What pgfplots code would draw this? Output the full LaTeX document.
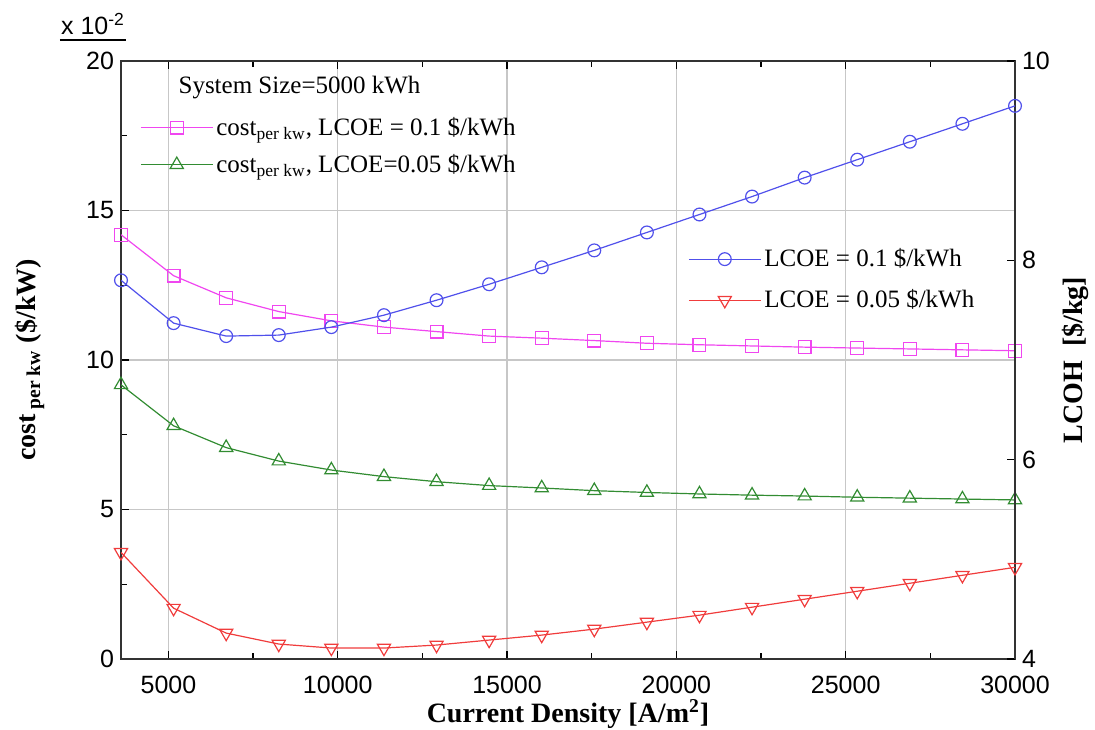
\documentclass[border=0pt]{standalone}
\usepackage{pgfplots}
\usepackage{pgfplotstable}
\pgfplotsset{compat=1.18}
\usepackage{fontspec}
\setmainfont{Liberation Serif}
\setsansfont{Liberation Sans}
\definecolor{cmag}{RGB}{240,70,240}
\definecolor{cgreen}{RGB}{50,140,50}
\definecolor{cblue}{RGB}{80,80,235}
\definecolor{cred}{RGB}{240,60,60}

\pgfplotstableread{
x mag green blue red
3600 14.19 9.17 7.80 5.07
5153 12.82 7.80 7.37 4.51
6706 12.08 7.07 7.24 4.26
8259 11.62 6.62 7.25 4.15
9812 11.31 6.32 7.33 4.11
11365 11.10 6.10 7.45 4.11
12918 10.95 5.93 7.60 4.14
14471 10.80 5.80 7.76 4.19
16024 10.73 5.72 7.93 4.24
17576 10.65 5.63 8.10 4.30
19129 10.56 5.57 8.28 4.37
20682 10.51 5.52 8.46 4.44
22235 10.47 5.48 8.64 4.52
23788 10.43 5.45 8.83 4.60
25341 10.40 5.41 9.01 4.68
26894 10.37 5.38 9.19 4.76
28447 10.34 5.35 9.37 4.84
30000 10.31 5.32 9.55 4.92
}\data

\pgfplotsset{
  myax/.style={
    width=447pt, height=299pt, scale only axis,
    xmin=3600, xmax=30000,
    tick label style={font=\sffamily\fontsize{12.5}{14}\selectfont},
    /pgf/number format/assume math mode=true,
    /pgf/number format/set thousands separator={},
    scaled ticks=false,
    tick align=inside,
    major tick length=4pt, minor tick length=3pt,
    every tick/.style={black, line width=0.6pt},
    axis line style={black!80, line width=0.9pt},
    label style={font=\bfseries\fontsize{14}{16}\selectfont},
    legend image code/.code={
      \draw[mark repeat=2,mark phase=2] plot coordinates {(0pt,0pt) (18pt,0pt) (36pt,0pt)};
    },
    legend style={draw=none, fill=none, inner sep=0pt,
      font=\fontsize{12.5}{15}\selectfont, row sep=5pt,
      nodes={inner sep=1.5pt}},
    legend cell align=left,
  },
  myline/.style={line width=0.6pt, mark options={solid, fill=white, line width=0.6pt}},
}

\begin{document}
\begin{tikzpicture}
\begin{axis}[myax, name=ax,
  ymin=0, ymax=20,
  ytick={0,5,10,15,20},
  minor y tick num=1,
  xtick={5000,10000,15000,20000,25000,30000},
  minor x tick num=1,
  ytick pos=left,
  xmajorgrids, ymajorgrids,
  grid style={black!22, line width=0.6pt},
  xticklabel style={yshift=-5pt},
  xlabel={Current Density [A/m\textsuperscript{2}]},
  ylabel={cost\textsubscript{ per kw} (\$/kW)},
  xlabel style={yshift=4pt},
  ylabel style={yshift=14pt},
  legend style={at={(0.021,0.912)}, anchor=north west},
]
\addplot[cmag, myline, mark=square, mark size=3.2pt] table[x=x, y=mag] {\data};
\addlegendentry{cost\textsubscript{per kw}, LCOE = 0.1 \$/kWh}
\addplot[cgreen, myline, mark=triangle, mark size=3.8pt] table[x=x, y=green] {\data};
\addlegendentry{cost\textsubscript{per kw}, LCOE=0.05 \$/kWh}
\node[anchor=west, font=\fontsize{12.5}{15}\selectfont, inner sep=0pt] at (rel axis cs:0.064,0.955) {System Size=5000 kWh};
\end{axis}
\begin{axis}[myax,
  ymin=4, ymax=10,
  ytick={4,6,8,10},
  axis y line*=right,
  axis x line=none,
  ylabel={LCOH\enspace [\$/kg]},
  ylabel style={yshift=0.5pt},
  legend style={at={(0.634,0.692)}, anchor=north west, row sep=7pt},
]
\addplot[cblue, myline, mark=o, mark size=3.2pt] table[x=x, y=blue] {\data};
\addlegendentry{LCOE = 0.1 \$/kWh}
\addplot[cred, myline, mark=triangle, mark size=3.8pt, mark options={rotate=180}] table[x=x, y=red] {\data};
\addlegendentry{LCOE = 0.05 \$/kWh}
\end{axis}
\node[anchor=south, font=\sffamily\fontsize{12.5}{14}\selectfont, inner sep=0pt] at ([shift={(-14pt,13pt)}]ax.north west) {x 10\textsuperscript{-2}};
\draw[black, line width=0.7pt] ([shift={(-30.5pt,10.5pt)}]ax.north west) -- ([shift={(2.5pt,10.5pt)}]ax.north west);
\pgfresetboundingbox
\path[use as bounding box] ([shift={(-60.5pt,-35pt)}]ax.south west) rectangle ([shift={(40pt,30.5pt)}]ax.north east);
\end{tikzpicture}
\end{document}
